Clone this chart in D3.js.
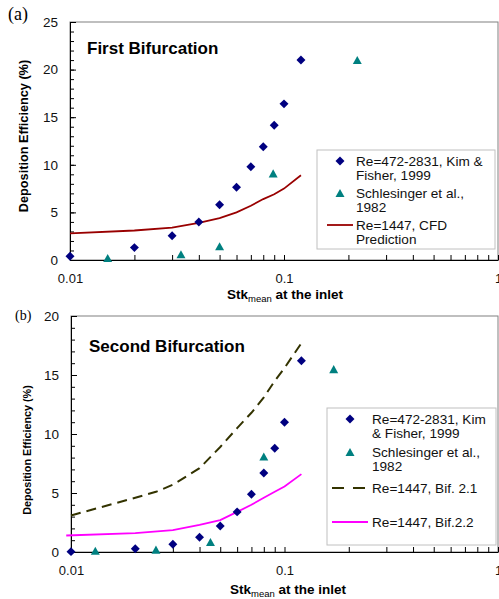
<!DOCTYPE html>
<html>
<head>
<meta charset="utf-8">
<script src="https://cdn.jsdelivr.net/npm/d3@7"></script>
<style>
body { margin: 0; background: #fff; }
svg { display: block; font-family: "Liberation Sans", Arial, sans-serif; }
</style>
</head>
<body>
<div id="chart"></div>
<script>
// ---- data ----
// (a) first bifurcation
var kimX1 = [0.01, 0.02, 0.03, 0.04, 0.05, 0.06, 0.07, 0.08, 0.09, 0.1, 0.12];
var kimY1 = [0.4, 1.3, 2.55, 4.0, 5.8, 7.65, 9.8, 11.9, 14.15, 16.4, 21.0];
var schX1 = [0.015, 0.033, 0.05, 0.089, 0.22];
var schY1 = [0.2, 0.6, 1.45, 9.1, 21.0];
var cfdX1 = [0.01, 0.02, 0.03, 0.04, 0.05, 0.06, 0.07, 0.08, 0.09, 0.1, 0.12];
var cfdY1 = [2.8, 3.1, 3.4, 3.9, 4.4, 5.0, 5.7, 6.4, 6.9, 7.5, 8.9];

// (b) second bifurcation
var kimX2 = [0.01, 0.02, 0.03, 0.04, 0.05, 0.06, 0.07, 0.08, 0.09, 0.1, 0.12];
var kimY2 = [0.03, 0.28, 0.65, 1.25, 2.2, 3.4, 4.9, 6.7, 8.8, 11.0, 16.2];
var schX2 = [0.013, 0.025, 0.045, 0.08, 0.17];
var schY2 = [0.1, 0.2, 0.85, 8.1, 15.5];
var bif21X = [0.01, 0.02, 0.025, 0.03, 0.04, 0.05, 0.06, 0.07, 0.08, 0.09, 0.1, 0.12];
var bif21Y = [3.1, 4.6, 5.1, 5.7, 7.1, 8.9, 10.5, 11.8, 13.1, 14.5, 15.6, 17.7];
var bif22X = [0.0095, 0.02, 0.03, 0.04, 0.05, 0.06, 0.07, 0.08, 0.09, 0.1, 0.12];
var bif22Y = [1.4, 1.6, 1.85, 2.3, 2.7, 3.4, 4.0, 4.6, 5.1, 5.55, 6.6];

var xTickLabels = [0.01, 0.1, 1];
var yTicks1 = [0, 5, 10, 15, 20, 25];
var yTicks2 = [0, 5, 10, 15, 20];

var legend1 = [
    {kind: "kim", lines: ["Re=472-2831, Kim &", "Fisher, 1999"]},
    {kind: "sch", lines: ["Schlesinger et al.,", "1982"]},
    {kind: "cfd", lines: ["Re=1447, CFD", "Prediction"]}
];
var legend2 = [
    {kind: "kim", lines: ["Re=472-2831, Kim", "& Fisher, 1999"]},
    {kind: "sch", lines: ["Schlesinger et al.,", "1982"]},
    {kind: "b21", lines: ["Re=1447, Bif. 2.1"]},
    {kind: "b22", lines: ["Re=1447, Bif.2.2"]}
];

var svgWidth = 499;
var svgHeight = 599;

var svg = d3.select("#chart")
    .append("svg")
        .attr("width", svgWidth)
        .attr("height", svgHeight);

// excel style markers
var diamond = {
    draw: function(context, size) {
        var r = Math.sqrt(size / 2);
        context.moveTo(0, -r);
        context.lineTo(r, 0);
        context.lineTo(0, r);
        context.lineTo(-r, 0);
        context.closePath();
    }
};
var triangle = {
    draw: function(context, size) {
        var w = Math.sqrt(size) / 2;
        var h = w * 0.9;
        context.moveTo(0, -h);
        context.lineTo(w, h);
        context.lineTo(-w, h);
        context.closePath();
    }
};

var styles = {
    kim: {color: "#000080"},
    sch: {color: "#008080"},
    cfd: {color: "#990000", width: 1.8, dash: null},
    b21: {color: "#333300", width: 2, dash: "10,6"},
    b22: {color: "#ff00ff", width: 1.8, dash: null}
};

function zip(xs, ys) {
    return xs.map(function(x, i) { return {x: x, y: ys[i]}; });
}

function drawPanel(p) {
    var x = d3.scaleLog().domain([0.01, 1]).range([p.left, p.right]);
    var y = d3.scaleLinear().domain([0, p.ymax]).range([p.bottom, p.top]);

    // plot frame
    svg.append("rect")
        .attr("x", p.left)
        .attr("y", p.top)
        .attr("width", p.right - p.left)
        .attr("height", p.bottom - p.top)
        .style("fill", "none")
        .style("stroke", "#808080");

    // x axis: minor ticks inward, labels on decades only
    var xMinor = [];
    [0.01, 0.1].forEach(function(d) {
        for (var k = 1; k <= 9; k++) xMinor.push(d * k);
    });
    xMinor.push(1);

    svg.append("g")
        .attr("transform", "translate(0," + p.bottom + ")")
        .call(d3.axisBottom(x).tickValues(xMinor).tickSizeInner(-5).tickSizeOuter(0).tickFormat(""))
        .call(function(g) { g.select(".domain").attr("stroke", "#000"); });

    svg.append("g")
        .attr("class", "x-labels")
        .attr("transform", "translate(0," + p.bottom + ")")
        .call(d3.axisBottom(x).tickValues(xTickLabels).tickSize(0).tickPadding(14)
            .tickFormat(function(d) { return d3.format("~g")(d); }))
        .call(function(g) {
            g.select(".domain").remove();
            g.selectAll("text").style("font-size", "13px").style("fill", "#111")
                .style("font-family", "Liberation Sans, Arial, sans-serif");
        });

    // y axis
    svg.append("g")
        .attr("transform", "translate(" + p.left + ",0)")
        .call(d3.axisLeft(y).tickValues(d3.range(0, p.ymax + 1, 1)).tickSizeInner(-4).tickSizeOuter(0).tickFormat(""))
        .call(function(g) { g.select(".domain").attr("stroke", "#000"); });

    svg.append("g")
        .attr("transform", "translate(" + p.left + ",0)")
        .call(d3.axisLeft(y).tickValues(p.yTicks).tickSizeInner(-6).tickSizeOuter(0).tickPadding(12))
        .call(function(g) {
            g.select(".domain").remove();
            g.selectAll("text").style("font-size", "13.5px").style("fill", "#111")
                .style("font-family", "Liberation Sans, Arial, sans-serif");
        });

    // lines
    var line = d3.line()
        .x(function(d) { return x(d.x); })
        .y(function(d) { return y(d.y); });

    p.lines.forEach(function(l) {
        var s = styles[l.kind];
        svg.append("path")
            .datum(zip(l.xs, l.ys))
            .attr("d", line)
            .style("fill", "none")
            .style("stroke", s.color)
            .style("stroke-width", s.width)
            .style("stroke-dasharray", s.dash);
    });

    // markers
    svg.append("g").selectAll("path")
        .data(zip(p.kimX, p.kimY))
        .enter().append("path")
            .attr("transform", function(d) { return "translate(" + x(d.x) + "," + y(d.y) + ")"; })
            .attr("d", d3.symbol().type(diamond).size(40))
            .style("fill", styles.kim.color);

    svg.append("g").selectAll("path")
        .data(zip(p.schX, p.schY))
        .enter().append("path")
            .attr("transform", function(d) { return "translate(" + x(d.x) + "," + y(d.y) + ")"; })
            .attr("d", d3.symbol().type(triangle).size(80))
            .style("fill", styles.sch.color);

    // panel title
    svg.append("text")
        .attr("x", p.titleX)
        .attr("y", p.titleY)
        .style("font-size", "17px")
        .style("font-weight", "bold")
        .text(p.title);

    // panel letter
    svg.append("text")
        .attr("x", p.letterX)
        .attr("y", p.letterY)
        .style("font-family", "Liberation Serif, Times New Roman, serif")
        .style("font-size", p.letterSize + "px")
        .text(p.letter);

    // y label
    svg.append("text")
        .attr("transform", "translate(" + p.yLabelX + "," + p.yLabelY + ") rotate(-90)")
        .attr("text-anchor", "middle")
        .style("font-size", p.yLabelSize + "px")
        .style("font-weight", "bold")
        .text("Deposition Efficiency (%)");

    // x label with subscript
    var xt = svg.append("text")
        .attr("x", p.xLabelX)
        .attr("y", p.xLabelY)
        .style("font-size", "13.5px")
        .style("font-weight", "bold");
    xt.append("tspan").text("Stk");
    xt.append("tspan").attr("dy", 3).style("font-size", "9.5px").style("font-weight", "normal").text("mean");
    xt.append("tspan").attr("dy", -3).text(" at the inlet");

    // legend
    var lg = p.legend;
    svg.append("rect")
        .attr("x", lg.x)
        .attr("y", lg.y)
        .attr("width", lg.w)
        .attr("height", lg.h)
        .style("fill", "#fff")
        .style("stroke", "#c0c0c0");

    var items = svg.append("g").selectAll("g")
        .data(lg.items)
        .enter().append("g")
            .attr("transform", function(d, i) { return "translate(0," + lg.rows[i] + ")"; });

    items.each(function(d) {
        var g = d3.select(this);
        var s = styles[d.kind];
        if (d.kind === "kim") {
            g.append("path")
                .attr("transform", "translate(" + lg.markerX + ",0)")
                .attr("d", d3.symbol().type(diamond).size(40))
                .style("fill", s.color);
        } else if (d.kind === "sch") {
            g.append("path")
                .attr("transform", "translate(" + lg.markerX + ",0)")
                .attr("d", d3.symbol().type(triangle).size(80))
                .style("fill", s.color);
        } else {
            g.append("line")
                .attr("x1", lg.lineX1)
                .attr("x2", d.kind === "b22" ? lg.lineX2 + 3 : lg.lineX2)
                .style("stroke", s.color)
                .style("stroke-width", s.width)
                .style("stroke-dasharray", d.kind === "b21" ? "12,9" : null);
        }
        g.selectAll("text")
            .data(d.lines)
            .enter().append("text")
                .attr("x", lg.textX)
                .attr("y", function(t, j) { return 5 + j * 14; })
                .style("font-size", "13.6px")
                .style("fill", "#111")
                .text(function(t) { return t; });
    });
}

drawPanel({
    left: 70, right: 498, top: 22, bottom: 260, ymax: 25, yTicks: yTicks1,
    kimX: kimX1, kimY: kimY1, schX: schX1, schY: schY1,
    lines: [{kind: "cfd", xs: cfdX1, ys: cfdY1}],
    title: "First Bifurcation", titleX: 87, titleY: 54,
    letter: "(a)", letterX: 8, letterY: 20, letterSize: 18,
    yLabelX: 28, yLabelY: 136, yLabelSize: 12.7,
    xLabelX: 227, xLabelY: 299,
    legend: {x: 317, y: 150, w: 178, h: 99, items: legend1, rows: [161, 193, 225],
             markerX: 340, lineX1: 327, lineX2: 353, textX: 356}
});

drawPanel({
    left: 71, right: 498, top: 316, bottom: 552, ymax: 20, yTicks: yTicks2,
    kimX: kimX2, kimY: kimY2, schX: schX2, schY: schY2,
    lines: [{kind: "b21", xs: bif21X, ys: bif21Y}, {kind: "b22", xs: bif22X, ys: bif22Y}],
    title: "Second Bifurcation", titleX: 89, titleY: 352,
    letter: "(b)", letterX: 15, letterY: 320, letterSize: 14,
    yLabelX: 31, yLabelY: 450, yLabelSize: 10.8,
    xLabelX: 230, xLabelY: 594,
    legend: {x: 327, y: 408, w: 169, h: 137, items: legend2, rows: [419, 452, 488, 522],
             markerX: 350, lineX1: 332, lineX2: 365, textX: 372}
});
</script>
</body>
</html>
